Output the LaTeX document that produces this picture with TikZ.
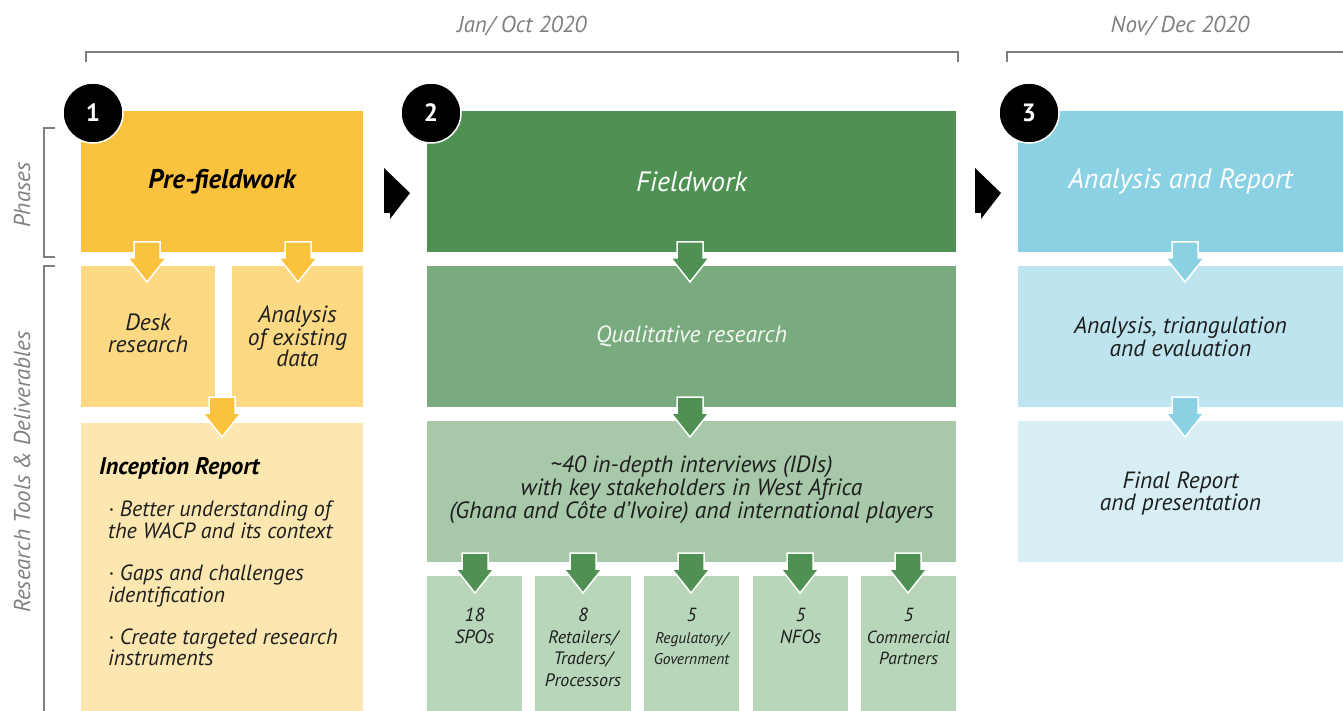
\documentclass[tikz,border=0pt]{standalone}
\usepackage{fontspec}
\setmainfont{PT Sans}
\definecolor{yA}{HTML}{FBC33D}
\definecolor{yB}{HTML}{FCD982}
\definecolor{yC}{HTML}{FDE7B1}
\definecolor{gA}{HTML}{4E9153}
\definecolor{gB}{HTML}{7AAB7E}
\definecolor{gC}{HTML}{A7C8A9}
\definecolor{gD}{HTML}{B8D6BA}
\definecolor{bA}{HTML}{8AD2E3}
\definecolor{bB}{HTML}{BEE5EF}
\definecolor{bC}{HTML}{D6EEF4}
\definecolor{gr}{HTML}{7F7F7F}
\definecolor{ink}{HTML}{1E1E1E}
\begin{document}
\begin{tikzpicture}[x=1pt,y=-1pt,
  rect/.style={anchor=north west, inner sep=0pt, outer sep=0pt, draw=none},
  txt/.style={font=\fontsize{23.5}{21.5}\selectfont\itshape, align=center, text=ink, inner sep=0pt},
  ttl/.style={font=\fontsize{28}{28}\selectfont\itshape, text=white, inner sep=0pt},
  lbl/.style={font=\fontsize{23}{23}\selectfont\itshape, text=gr, inner sep=0pt},
  sml/.style={anchor=north, inner sep=0pt, align=center, text=ink, font=\fontsize{19}{21.5}\selectfont\itshape},
  num/.style={circle, fill=black, draw=white, line width=1.5pt, minimum size=60pt, inner sep=0pt, text=white, font=\fontsize{25}{25}\selectfont\bfseries},
  brk/.style={draw=gr, line width=1.3pt},
  darrow/.pic={\path[pic actions] (-13,0) -- (13,0) -- (13,16) -- (19,16) -- (0,40) -- (-19,16) -- (-13,16) -- cycle;},
  rarrow/.pic={\path[pic actions] (0,0) -- (26,25) -- (6,51) -- (6,45) -- (0,45) -- cycle;},
  arr/.style={fill=#1, draw=white, line width=1.5pt}
]
\useasboundingbox (0,0) rectangle (1343,711);

% timeline brackets
\draw[brk] (86,62) -- (86,52) -- (958,52) -- (958,62);
\draw[brk] (1007,62) -- (1007,52) -- (1343,52);
\node[lbl] (jan) at (522,26) {Jan/ Oct 2020};
\node[lbl] (nov) at (1180,26) {Nov/ Dec 2020};

% side brackets
\draw[brk] (55,128) -- (44,128) -- (44,257) -- (55,257);
\draw[brk] (55,266) -- (44,266) -- (44,711);
\node[lbl, rotate=90] (phases) at (22,195) {Phases};
\node[lbl, rotate=90] (rtd) at (22,472) {Research Tools \& Deliverables};

% column 1
\node[rect, fill=yA, minimum width=282pt, minimum height=141pt] (p1) at (81,111) {};
\node[ttl, text=black, font=\fontsize{27}{28}\selectfont\bfseries\itshape] (p1t) at (p1.center) {Pre-fieldwork};
\node[rect, fill=yB, minimum width=134pt, minimum height=141pt] (desk) at (81,266) {};
\node[rect, fill=yB, minimum width=131pt, minimum height=141pt] (anl) at (232,266) {};
\node[txt] (deskt) at ([yshift=3pt]desk.center) {Desk\\research};
\node[txt] (anlt) at ([yshift=0pt]anl.center) {Analysis\\of existing\\data};
\node[rect, fill=yC, minimum width=282pt, minimum height=288pt] (inc) at (81,423) {};
\node[anchor=north west, inner sep=0pt, font=\fontsize{24}{21}\selectfont\bfseries\itshape, text=black] (inct) at (99,457) {Inception Report};
\node[anchor=north west, inner sep=0pt, font=\fontsize{22}{21.6}\selectfont\itshape, text=ink, align=left] (incb) at (108,501)
  {· Better understanding of\\the WACP and its context\\[20.5pt]· Gaps and challenges\\identification\\[20.5pt]· Create targeted research\\instruments};

% column 2
\node[rect, fill=gA, minimum width=529pt, minimum height=141pt] (p2) at (427,111) {};
\node[ttl] (p2t) at (p2.center) {Fieldwork};
\node[rect, fill=gB, minimum width=529pt, minimum height=141pt] (qual) at (427,266) {};
\node[txt, text=white!92!gB, font=\fontsize{23.5}{21}\selectfont\itshape] (qualt) at (qual.center) {Qualitative research};
\node[rect, fill=gC, minimum width=529pt, minimum height=141pt] (idi) at (427,421) {};
\node[txt] (idit) at ([yshift=2pt]idi.center) {\textasciitilde 40 in-depth interviews (IDIs)\\with key stakeholders in West Africa\\(Ghana and Côte d'Ivoire) and international players};
\node[rect, fill=gD, minimum width=95pt, minimum height=135pt] (s1) at (427,576) {};
\node[rect, fill=gD, minimum width=96pt, minimum height=135pt] (s2) at (535,576) {};
\node[rect, fill=gD, minimum width=95pt, minimum height=135pt] (s3) at (644,576) {};
\node[rect, fill=gD, minimum width=95pt, minimum height=135pt] (s4) at (753,576) {};
\node[rect, fill=gD, minimum width=95pt, minimum height=135pt] (s5) at (861,576) {};
\node[sml] (s1t) at (474.5,608) {18\\SPOs};
\node[sml] (s2t) at (583,608) {8\\{\fontsize{18}{21.5}\selectfont Retailers/}\\{\fontsize{18}{21.5}\selectfont Traders/}\\{\fontsize{18}{21.5}\selectfont Processors}};
\node[sml] (s3t) at (691.5,608) {5\\{\fontsize{15.5}{21.5}\selectfont Regulatory/}\\{\fontsize{15.5}{21.5}\selectfont Government}};
\node[sml] (s4t) at (800.5,608) {5\\NFOs};
\node[sml] (s5t) at (908.5,608) {5\\{\fontsize{17.5}{21.5}\selectfont Commercial}\\{\fontsize{17.5}{21.5}\selectfont Partners}};

% column 3
\node[rect, fill=bA, minimum width=325pt, minimum height=141pt] (p3) at (1018,111) {};
\node[ttl] (p3t) at (p3.center) {Analysis and Report};
\node[rect, fill=bB, minimum width=325pt, minimum height=141pt] (ate) at (1018,266) {};
\node[txt] (atet) at ([yshift=0pt]ate.center) {Analysis, triangulation\\and evaluation};
\node[rect, fill=bC, minimum width=325pt, minimum height=141pt] (fin) at (1018,421) {};
\node[txt] (fint) at ([yshift=-2pt]fin.center) {Final Report\\and presentation};

% down arrows
\pic[arr=yA] at (147,242) {darrow};
\pic[arr=yA] at (298,242) {darrow};
\pic[arr=yA] at (222,397) {darrow};
\pic[arr=gA] at (690,242) {darrow};
\pic[arr=gA] at (690,397) {darrow};
\pic[arr=gA] at (475,553) {darrow};
\pic[arr=gA] at (583,553) {darrow};
\pic[arr=gA] at (691,553) {darrow};
\pic[arr=gA] at (800,553) {darrow};
\pic[arr=gA] at (908,553) {darrow};
\pic[arr=bA] at (1185,242) {darrow};
\pic[arr=bA] at (1185,397) {darrow};

% phase arrows
\pic[fill=black] at (384,168) {rarrow};
\pic[fill=black] at (975,168) {rarrow};

% numbers
\node[num] (n1) at (93,113) {1};
\node[num] (n2) at (431,113) {2};
\node[num] (n3) at (1029,113) {3};
\end{tikzpicture}
\end{document}
